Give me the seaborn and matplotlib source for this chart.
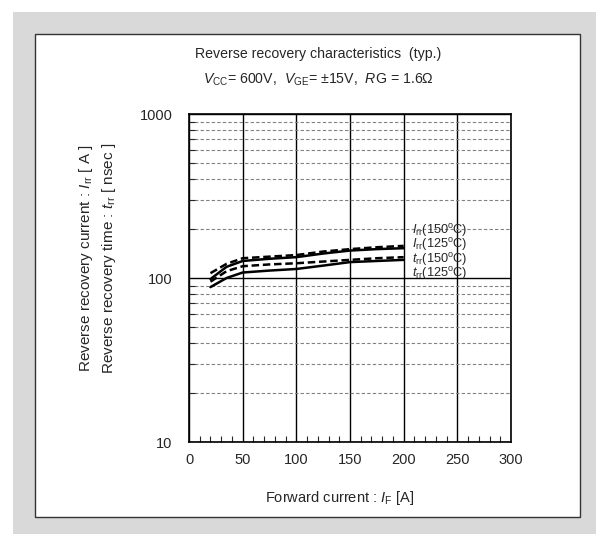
import matplotlib
matplotlib.use("Agg")
import matplotlib.pyplot as plt
import matplotlib.ticker as mticker
from matplotlib.patches import Rectangle
import seaborn as sns
import pandas as pd

sns.set_style("white")
plt.rcParams['font.family'] = ['Liberation Sans', 'DejaVu Sans']
plt.rcParams['mathtext.fontset'] = 'custom'
plt.rcParams['mathtext.rm'] = 'Liberation Sans'
plt.rcParams['mathtext.it'] = 'Liberation Sans:italic'

forward_current = [20, 35, 50, 75, 100, 125, 150, 175, 200]
irr_150 = [107, 122, 132, 135, 138, 145, 150, 154, 157]
irr_125 = [98.5, 117, 127, 131, 134, 141, 147, 150, 152]
trr_150 = [95, 110, 118, 121, 123, 126, 129, 132, 134]
trr_125 = [88, 100, 108, 111, 113.5, 119, 125, 127, 129]
series_labels = ["$I_{\\mathrm{rr}}$(150$^{\\mathrm{o}}$C)", "$I_{\\mathrm{rr}}$(125$^{\\mathrm{o}}$C)",
                 "$t_{\\mathrm{rr}}$(150$^{\\mathrm{o}}$C)", "$t_{\\mathrm{rr}}$(125$^{\\mathrm{o}}$C)"]

W, H = 596, 534
fig = plt.figure(figsize=(W / 100, H / 100), dpi=100)
fig.patch.set_facecolor('white')
fig.patches.append(Rectangle((13 / W, 0), 1 - 13 / W, 1 - 12 / H, transform=fig.transFigure,
                             facecolor='#d9d9d9', edgecolor='none', zorder=0))
fig.patches.append(Rectangle((35 / W, (H - 517) / H), 545 / W, 483 / H, transform=fig.transFigure,
                             facecolor='white', edgecolor='#333333', lw=1.0, zorder=1))

ax = fig.add_axes([189 / W, (H - 442) / H, 322 / W, 328 / H])
ax.set_zorder(2)
ax.set_facecolor('none')

styles = [(irr_150, (0, (3, 1.5))), (irr_125, '-'), (trr_150, (0, (3, 1.5))), (trr_125, '-')]
for vals, ls in styles:
    df = pd.DataFrame({"x": forward_current, "y": vals})
    sns.lineplot(data=df, x="x", y="y", ax=ax, color='black', lw=1.8, linestyle=ls)

ax.set_yscale('log')
ax.set_xlim(0, 300)
ax.set_ylim(10, 1000)
ax.xaxis.set_major_locator(mticker.MultipleLocator(50))
ax.xaxis.set_minor_locator(mticker.MultipleLocator(10))
ax.yaxis.set_major_locator(mticker.FixedLocator([10, 100, 1000]))
ax.yaxis.set_major_formatter(mticker.FuncFormatter(lambda v, p: f"{int(v)}"))
ax.yaxis.set_minor_locator(mticker.LogLocator(base=10, subs=range(2, 10)))
ax.yaxis.set_minor_formatter(mticker.NullFormatter())

ax.grid(which='major', axis='x', color='black', lw=1.0, linestyle='-')
ax.grid(which='major', axis='y', color='black', lw=1.0, linestyle='-')
ax.grid(which='minor', axis='y', color='#808080', lw=0.8, linestyle=(0, (3, 2)))
ax.tick_params(axis='x', which='major', direction='in', length=0, labelsize=10.5, pad=8)
ax.tick_params(axis='x', which='minor', direction='in', length=4, width=0.8, bottom=True)
ax.tick_params(axis='y', which='major', length=0, labelsize=10.5, pad=12)
ax.tick_params(axis='y', which='minor', direction='in', length=4, width=0.8, left=True)
for s in ax.spines.values():
    s.set_color('black')
    s.set_linewidth(1.2)
ax.set_xlabel("")
ax.set_ylabel("")

label_y = [231, 245, 259, 274]
for lab, py in zip(series_labels, label_y):
    fig.text(412 / W, (H - py) / H, lab, fontsize=9.2, ha='left', va='center', zorder=5)

fig.text(318 / W, (H - 54) / H, "Reverse recovery characteristics  (typ.)", fontsize=10.2,
         ha='center', va='center')
fig.text(318 / W, (H - 80) / H, "$V_{\\mathrm{CC}}$= 600V,  $V_{\\mathrm{GE}}$= \u00b115V,  $R$G = 1.6\u03a9",
         fontsize=10.2, ha='center', va='center')
fig.text(340 / W, (H - 498) / H, "Forward current : $I_{\\mathrm{F}}$ [A]", fontsize=10.5,
         ha='center', va='center')
fig.text(86 / W, (H - 258) / H, "Reverse recovery current : $I_{\\mathrm{rr}}$ [ A ]", fontsize=11,
         rotation=90, ha='center', va='center')
fig.text(109 / W, (H - 258) / H, "Reverse recovery time : $t_{\\mathrm{rr}}$ [ nsec ]", fontsize=11,
         rotation=90, ha='center', va='center')

fig.savefig("out.png", dpi=100)
